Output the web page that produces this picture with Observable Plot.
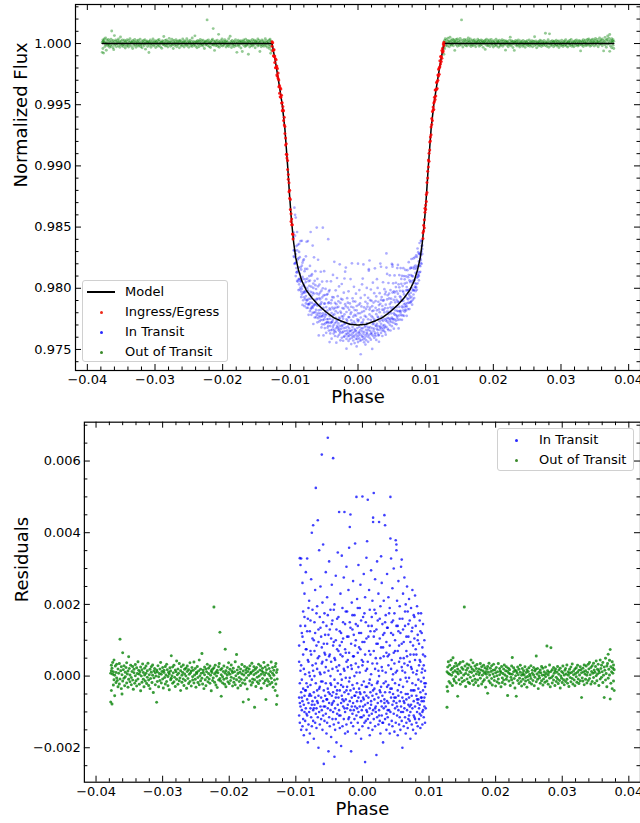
<!DOCTYPE html>
<html><head><meta charset="utf-8">
<script src="https://cdn.jsdelivr.net/npm/d3@7"></script>
<script src="https://cdn.jsdelivr.net/npm/@observablehq/plot@0.6"></script>
<style>
html,body{margin:0;padding:0;background:#fff;overflow:hidden;}
#wrap{position:relative;width:640px;height:823px;font-family:"DejaVu Sans",sans-serif;color:#000;overflow:hidden;}
.panel{position:absolute;left:0;}
.legend{position:absolute;border:1px solid #d0d0d0;border-radius:3px;background:rgba(255,255,255,0.8);box-sizing:border-box;font-size:13px;}
.lrow{position:absolute;left:0;height:16px;line-height:16px;white-space:nowrap;width:100%;}
.lrow .txt{position:absolute;}
.lrow .dot{position:absolute;width:3px;height:3px;border-radius:50%;top:6.5px;}
.lrow .ln{position:absolute;height:1.5px;background:#000;top:7px;}
</style></head>
<body><div id="wrap"></div>
<script>
// units: phase in 1e-4, flux / residual in 1e-5
const baseline = 1.0;
// Out of transit: [phase, residuals...]
const outOfTransit = [
[-378,-72,8],[-377,15,-40,30],[-376,-78,22],[-375,5,38],[-374,-25,12],[-373,45,-10],[-372,2,-55],[-371,28],[-370,-18,10],[-369,33,-5],
[-368,-12],[-367,20,-30],[-366,8],[-365,-22,35],[-364,103,-8],[-363,15],[-362,-35,26],[-361,-50,4],[-360,65,-14],[-359,18],
[-358,-6,29],[-357,-27],[-356,11,-2],[-355,24],[-354,-19,37],[-353,6],[-352,-31,14],[-351,54,-9],[-350,21],[-349,-16,3],
[-348,30],[-347,-4,-24],[-346,13],[-345,27,-11],[-344,-37],[-343,9,19],[-342,-20],[-341,1,32],[-340,-13],[-339,23,-28],
[-338,7],[-337,-8,40],[-336,16],[-335,-23,5],[-334,12],[-333,-41,25],[-332,0],[-331,18,-17],[-330,34],[-329,-9,10],
[-328,-30],[-327,22,3],[-326,-14],[-325,8,28],[-324,-21],[-323,15,-3],[-322,36],[-321,-11,-26],[-320,4],[-319,19,-35],
[-318,-7],[-317,26,11],[-316,-18],[-315,2,31],[-314,-46],[-313,14,-5],[-312,21],[-311,-24,9],[-310,0],[-309,-73,17],
[-308,12,-15],[-307,29],[-306,-2,-30],[-305,7],[-304,20,-12],[-303,38],[-302,-19,5],[-301,13],[-300,-8,24],[-299,-33],
[-298,10,16],[-297,-4],[-296,27,-22],[-295,3],[-294,-15,33],[-293,18],[-292,-27,-1],[-291,11],[-290,6,-38],[-289,23],
[-288,-10,14],[-287,57,-6],[-286,1],[-285,-20,25],[-284,9],[-283,30,-16],[-282,-3],[-281,17,-29],[-280,12],[-279,-9,42],
[-278,4],[-277,-23,20],[-276,8],[-275,35,-13],[-274,-5],[-273,15,-40],[-272,26],[-271,-17,2],[-270,10],[-269,31,-8],
[-268,-26],[-267,6,19],[-266,-12],[-265,22,0],[-264,-34],[-263,13,28],[-262,-7],[-261,18,-21],[-260,5],[-259,-15,37],
[-258,9],[-257,-28,14],[-256,24],[-255,-2,-11],[-254,16],[-253,39,-19],[-252,3],[-251,-9,21],[-250,-31],[-249,11,7],
[-248,27],[-247,-18,-4],[-246,14],[-245,45,-24],[-244,1],[-243,-13,19],[-242,8],[-241,63,-6],[-240,-22],[-239,17,10],
[-238,-35],[-237,4,25],[-236,-10],[-235,20,-27],[-234,12],[-233,-3,33],[-232,-16],[-231,7,22],[-230,-8],[-229,28,-20],
[-228,2],[-227,-41,15],[-226,10],[-225,19,-12],[-224,-5],[-223,193,23],[-222,-17,6],[-221,30],[-220,-25,11],[-219,0],
[-218,16,-32],[-217,9],[-216,-11,26],[-215,35],[-214,122,-7],[-213,-14,18],[-212,-56,4],[-211,21],[-210,-2,-19],[-209,13],
[-208,28,-9],[-207,-23],[-206,75,8],[-205,15,-30],[-204,-6],[-203,24,3],[-202,-16],[-201,10,37],[-200,-21],[-199,5,19],
[-198,-12],[-197,31,-3],[-196,14],[-195,-28,9],[-194,22],[-193,-7,-17],[-192,12],[-191,40,-24],[-190,1],[-189,60,-10],
[-188,17],[-187,-33,7],[-186,25],[-185,-4,-15],[-184,11],[-183,20,-26],[-182,-9],[-181,6,32],[-180,-19],[-179,-72,14],
[-178,3],[-177,27,-11],[-176,-22],[-175,9,18],[-174,-5],[-173,23,-36],[-172,13],[-171,-65,2],[-170,20],[-169,-14,29],
[-168,7],[-167,-25,11],[-166,36],[-165,-8,-18],[-164,15],[-163,4,26],[-162,-87,-10],[-161,19],[-160,-29,8],[-159,24],
[-158,-3,-16],[-157,12],[-156,33,-21],[-155,0],[-154,-12,17],[-153,28],[-152,-34,5],[-151,14],[-150,-7,22],[-149,10],
[-148,-20,38],[-147,3],[-146,25,-13],[-145,-65,9],[-144,18],[-143,-9,-27],[-142,30],[-141,6,-15],[-140,21],[-139,-23,1],
[-138,13],[-137,39,-6],[-136,-18],[-135,8,24],[-134,-31],[-133,16,2],[-132,-11],[-131,27,-40],[-130,-22,35],[-129,-79,10],
[-128,-55,18,-8],
[127,-87,12,-30],[128,-42,25],[129,8,40],[130,-15],[131,30,5],[132,-20],[133,18,44],[134,2],[135,-26,22],[136,51,10],
[137,-8],[138,27,-14],[139,15],[140,36,-2],[141,-19],[142,11,29],[143,-56,20],[144,6],[145,33,-10],[146,14],
[147,-23,38],[148,9],[149,24,-5],[150,-16],[151,19,41],[152,3],[153,193,-12],[154,28],[155,7,-29],[156,16],
[157,-8,34],[158,22],[159,-17,4],[160,31],[161,12,-21],[162,-3],[163,25,45],[164,10],[165,-13,19],[166,37],
[167,1,-24],[168,15],[169,28,-9],[170,-18],[171,6,21],[172,32],[173,-11,13],[174,-27],[175,20,4],[176,9],
[177,-6,35],[178,17],[179,-22,26],[180,2],[181,14,-15],[182,30],[183,-10,8],[184,23],[185,-31,12],[186,5],
[187,19,-4],[188,-48,27],[189,11],[190,-14,36],[191,3],[192,22,-19],[193,13],[194,-7,29],[195,-25],[196,16,6],
[197,33],[198,-2,-12],[199,18],[200,9,-28],[201,24],[202,-16,1],[203,12],[204,35,-8],[205,-20],[206,4,21],
[207,14],[208,-30,10],[209,27],[210,-5,-18],[211,7],[212,20,-11],[213,31],[214,-23,3],[215,15],[216,-9,26],
[217,-1],[218,-54,13],[219,22],[220,-14,8],[221,18],[222,6,-26],[223,-3],[224,28,-10],[225,52,5],[226,-19],
[227,12,23],[228,-7],[229,17,-33],[230,1],[231,-56,14],[232,9],[233,-12,25],[234,4],[235,19,-21],[236,-6],
[237,11,30],[238,-15],[239,2,-28],[240,21],[241,-9,7],[242,15],[243,-23,3],[244,26],[245,-4,-14],[246,10],
[247,18,-31],[248,-1],[249,13,-11],[250,23],[251,-18,5],[252,0],[253,29,-7],[254,-22],[255,8,16],[256,-12],
[257,3,24],[258,-27],[259,14,-3],[260,19],[261,56,-16],[262,6],[263,-9,21],[264,-35],[265,11,1],[266,-5],
[267,17,-20],[268,9],[269,-13,27],[270,2],[271,22,-25],[272,-8],[273,12,4],[274,-17],[275,25,-2],[276,7],
[277,84,-14],[278,15],[279,-23,3],[280,10],[281,-6,31],[282,-30],[283,79,13],[284,-4],[285,18,-19],[286,1],
[287,-11,24],[288,8],[289,-26,14],[290,20],[291,-3,-15],[292,11],[293,27,-8],[294,-21],[295,5,17],[296,-12],
[297,22,-33],[298,0],[299,13,-6],[300,-18],[301,28,9],[302,-10],[303,3,-24],[304,16],[305,-15,21],[306,6],
[307,31,-9],[308,-20],[309,12,2],[310,-29],[311,19,8],[312,-4],[313,25,-16],[314,10],[315,-7,34],[316,-22],
[317,14,4],[318,-11],[319,20,-27],[320,7],[321,-2,23],[322,-17],[323,30,11],[324,-8],[325,16,-21],[326,3],
[327,-13,26],[328,18],[329,-60,9],[330,-5],[331,22,-14],[332,12],[333,-24,31],[334,6],[335,15,-9],[336,28],
[337,-19,2],[338,10],[339,33,-12],[340,20],[341,-7,38],[342,4],[343,24,-22],[344,13],[345,-15,29],[346,8],
[347,36,-4],[348,17],[349,-20,11],[350,27],[351,1,42],[352,-13],[353,19,6],[354,33],[355,-26,15],[356,9],
[357,45,-8],[358,21],[359,-3,30],[360,12],[361,38,-18],[362,2],[363,-60,25],[364,16],[365,50,-11],[366,7],
[367,28,-30],[368,35],[369,61,-6],[370,19],[371,44,3],[372,74,-64],[373,26,-20],[374,12],[375,40,-35],[376,8,22],
[377,-14,31],[378,18,-40]
];
// Ingress / egress: [phase, model flux, residuals...]
const ingressEgress = [
[-127,100000,15,-22],[-126,99970,-28,36],[-125,99940,10,-40],[-124,99910,40,-15],[-123,99880,-36,18],[-122,99850,26,-48],
[-121,99817,-10,50],[-120,99783,33,-40],[-119,99750,-18,45],[-118,99715,45,0],[-117,99680,-33,22],[-116,99645,12,-52],
[-115,99610,-45,28],[-114,99573,55,-12],[-113,99537,-22,40],[-112,99500,16,-50],[-111,99450,36,8],[-110,99400,-28,50],
[-109,99350,48,-16],[-108,99300,-36,22],[-107,99225,4,-55],[-106,99150,-54,32],[-105,99075,18,-10],[-104,99000,44,-30],
[-103,98917,-26,12],[-102,98833,30,-44],[-101,98750,-15,52],[-100,98675,50,-32],[-99,98600,8,-54],[-98,98540,26,-20],
[-97,98480,-36,40],[-96,98425,15,-22],
[96,98425,-18,28],[97,98480,36,-12],[98,98540,-45,20],[99,98600,22,54],[100,98675,-32,6],[101,98750,16,-40],
[102,98833,-50,32],[103,98917,40,-15],[104,99000,-8,48],[105,99075,28,-36],[106,99150,46,-20],[107,99225,-22,12],
[108,99300,18,-46],[109,99350,-12,38],[110,99400,44,-28],[111,99450,6,32],[112,99500,-40,14],[113,99537,24,-10],
[114,99573,-30,48],[115,99610,12,-38],[116,99645,36,-20],[117,99680,-48,8],[118,99715,28,-16],[119,99750,-15,40],
[120,99783,20,-34],[121,99817,-6,42],[122,99850,45,-18],[123,99880,-26,15],[124,99910,34,-30],[125,99940,-12,22],
[126,99970,26,-32],[127,100000,-16,10]
];
// In transit: [phase, model flux, residuals...]
const inTransit = [
[-95,98370,-60,40,-110,85],[-94,98330,329,-20,-130,-75],[-93,98290,310,-85,15,140],[-92,98250,328,-150,-45,30],[-91,98225,120,-95,-10,-60],
[-90,98200,260,-70,-140,110],[-89,98175,180,-35,-120,60],[-88,98150,-80,95,-165,20],[-87,98132,230,-55,-100,165],[-86,98114,140,-125,5,-40],
[-85,98096,290,-90,-40,75],[-84,98078,-150,75,-20,-105],[-83,98060,328,-110,-65,125],[-82,98049,160,-185,-30,45],[-81,98037,-75,40,-135,190],
[-80,98026,210,-100,10,-55],[-79,98014,-50,125,-160,0],[-78,98003,70,-90,-25,155],[-77,97991,270,-115,-55,60],[-76,97980,400,-140,-10,-80],
[-75,97973,185,-70,30,105],[-74,97965,421,-95,-125,15],[-73,97958,100,-45,-175,-90],[-72,97950,-80,150,0,70],[-71,97943,240,-130,-60,120],
[-70,97935,525,-20,-105,35],[-69,97928,85,-90,-145,175],[-68,97920,195,-40,20,-70],[-67,97914,435,-115,-75,50],[-66,97908,130,-55,-200,95],
[-65,97902,351,-100,55,-35],[-64,97896,-30,-135,165,10],[-63,97890,250,-85,5,135],[-62,97884,110,-60,-120,-15],[-61,97878,618,-95,35,80],
[-60,97872,205,-150,-15,40],[-59,97866,367,-70,-110,150],[-58,97860,90,-40,-245,-85],[-57,97855,175,-125,10,65],[-56,97850,-85,60,-55,115],
[-55,97845,290,-105,-20,25],[-54,97840,140,-160,45,-65],[-53,97835,-65,220,-130,90],[-52,97830,665,-90,-35,170],[-51,97825,115,-210,15,-45],
[-50,97820,320,-75,-115,55],[-49,97815,60,-50,-140,130],[-48,97810,185,-95,0,-20],[-47,97806,-25,-170,105,40],[-46,97802,255,-80,-55,145],
[-45,97798,155,-120,20,-75],[-44,97793,608,-45,-100,85],[-43,97789,95,-135,-70,185],[-42,97785,200,-10,-225,50],[-41,97781,45,-90,-150,-30],
[-40,97777,280,-60,-120,100],[-39,97773,130,-185,25,-50],[-38,97768,-40,75,-105,160],[-37,97764,345,-80,-20,15],[-36,97760,165,-130,-60,70],
[-35,97758,458,-95,30,-110],[-34,97755,85,-40,-145,125],[-33,97753,230,-110,5,60],[-32,97750,120,-75,-195,-25],[-31,97748,336,-55,-10,95],
[-30,97745,190,-140,55,-65],[-29,97743,-85,105,-30,150],[-28,97740,275,-120,-70,20],[-27,97738,458,-45,15,-90],[-26,97735,145,-100,-160,75],
[-25,97733,65,-65,-5,180],[-24,97730,305,-135,40,-40],[-23,97728,180,-90,-30,110],[-22,97726,25,-155,-80,45],[-21,97724,240,-50,110,-120],
[-20,97722,358,-115,-15,65],[-19,97720,416,-70,150,-5],[-18,97718,451,-95,-40,135],[-17,97716,90,-130,-210,30],[-16,97714,205,-60,20,-85],
[-15,97712,130,-105,-25,170],[-14,97710,265,-75,-140,55],[-13,97708,55,-35,-95,115],[-12,97706,170,-120,0,-55],[-11,97705,370,-85,-55,85],
[-10,97704,100,-160,35,145],[-9,97704,500,-45,-110,10],[-8,97703,215,-90,-20,-70],[-7,97703,140,-130,65,190],[-6,97702,310,-60,-100,25],
[-5,97702,80,-150,-35,120],[-4,97701,190,-85,10,-45],[-3,97701,255,-115,-50,75],[-2,97700,120,-70,-175,155],[-1,97700,45,-95,-25,-115],
[0,97700,501,-140,30,95],[1,97700,165,-60,-85,40],[2,97700,285,-110,-15,-65],[3,97701,95,-45,-130,175],[4,97701,220,-80,-240,60],
[5,97702,150,-125,15,-30],[6,97702,330,-55,-95,105],[7,97703,376,-100,-30,20],[8,97703,492,-75,40,-120],[9,97704,110,-145,-60,140],
[10,97704,240,-20,-110,70],[11,97705,185,-90,-165,-10],[12,97706,60,-130,-45,125],[13,97708,295,-70,5,-80],[14,97710,140,-105,-25,165],
[15,97712,210,-55,-150,35],[16,97714,442,-95,430,-40],[17,97716,511,-120,70,110],[18,97718,125,-65,-35,185],[19,97720,270,-140,20,-90],
[20,97722,175,-85,-100,50],[21,97724,90,-50,-220,130],[22,97726,320,-115,35,-20],[23,97728,155,-75,-15,90],[24,97730,230,-135,-60,15],
[25,97733,430,-95,0,-110],[26,97735,105,-40,-125,160],[27,97738,195,-160,50,-45],[28,97740,334,-70,-30,80],[29,97743,260,-110,-85,25],
[30,97745,145,-55,15,-130],[31,97748,80,-130,-185,115],[32,97750,210,-90,-20,55],[33,97753,449,-65,120,-75],[34,97755,421,-120,-45,150],
[35,97758,170,-85,10,-15],[36,97760,95,-150,-105,65],[37,97764,285,-30,-70,135],[38,97768,135,-115,55,-95],[39,97773,220,-75,-25,30],
[40,97777,60,-135,-95,175],[41,97781,190,-45,-160,85],[42,97785,500,384,-100,-35],[43,97789,328,-60,20,120],[44,97793,150,-125,-35,45],
[45,97798,245,-80,-140,-10],[46,97802,115,-50,5,155],[47,97806,300,-105,-70,65],[48,97810,175,-155,35,-60],[49,97815,70,-90,-20,100],
[50,97820,379,-130,-60,10],[51,97825,367,351,-75,140],[52,97830,210,-110,15,-85],[53,97835,140,-40,-165,70],[54,97840,265,-95,-55,125],
[55,97845,85,-135,40,-25],[56,97850,195,-70,-115,160],[57,97855,120,-150,-10,50],[58,97860,305,-85,-45,-100],[59,97866,325,-125,25,90],
[60,97872,160,-60,-200,15],[61,97878,230,-100,-30,130],[62,97884,95,-140,50,-70],[63,97890,275,-75,-90,35],[64,97896,140,-115,10,180],
[65,97902,200,-50,-160,-5],[66,97908,70,-130,-65,110],[67,97914,250,-95,-15,55],[68,97920,180,-145,30,-50],[69,97928,110,-80,-120,145],
[70,97935,215,-60,-5,-110],[71,97943,155,-125,-85,40],[72,97950,60,-100,-175,95],[73,97958,190,-40,25,-80],[74,97965,125,-135,-55,20],
[75,97973,240,-90,-20,135],[76,97980,85,-150,10,-40],[77,97991,170,-70,-110,60],[78,98003,105,-115,-40,165],[79,98014,225,-85,45,-120],
[80,98026,140,-160,-25,75],[81,98037,60,-55,-130,5],[82,98049,195,-100,15,-65],[83,98060,115,-140,-75,100],[84,98078,175,-65,-35,-10],
[85,98096,90,-120,30,-90],[86,98114,155,-80,-105,45],[87,98132,40,-45,-145,125],[88,98150,175,-110,-15,-60],[89,98175,120,-70,-60,10],
[90,98200,80,-135,20,-100],[91,98225,145,-95,-40,60],[92,98250,30,-115,-5,-70],[93,98290,100,-60,-85,-20],[94,98330,55,-130,-30,15],
[95,98370,-20,-90,-50]
];
// axis tick values
const xMajor = [-0.04,-0.03,-0.02,-0.01,0,0.01,0.02,0.03,0.04];
const yMajorTop = [0.975,0.980,0.985,0.990,0.995,1.000];
const yMajorBot = [-0.002,0,0.002,0.004,0.006];
const xMinor = d3.range(-40,41,2).filter(v=>v%10!==0).map(v=>v/1000);
const yMinorTop = d3.range(974,1004).filter(v=>v%5!==0).map(v=>v/1000);
const yMinorBot = d3.range(-5,15).filter(v=>v%4!==0).map(v=>v/2000);

const PH=1e-4, RU=1e-5;
const greenPts = outOfTransit.flatMap(([p,...rs])=>rs.map(r=>({phase:p*PH,resid:r*RU,flux:baseline+r*RU})));
const redPts = ingressEgress.flatMap(([p,m,...rs])=>rs.map(r=>({phase:p*PH,flux:(m+r)*RU})));
const bluePts = inTransit.flatMap(([p,m,...rs])=>rs.map(r=>({phase:p*PH,resid:r*RU,flux:(m+r)*RU})));
const modelLine = [
  ...outOfTransit.map(([p])=>({phase:p*PH,flux:baseline})),
  ...ingressEgress.map(([p,m])=>({phase:p*PH,flux:m*RU})),
  ...inTransit.map(([p,m])=>({phase:p*PH,flux:m*RU}))
].sort((a,b)=>a.phase-b.phase);

function frameTicks(iw, ih, xMaj, xMin, yMaj, yMin){
  const M=6, m=3.5, s={stroke:"#000", strokeWidth:1};
  return [
    Plot.tickX(xMaj,{x:d=>d,insetTop:ih-M,...s}),
    Plot.tickX(xMaj,{x:d=>d,insetBottom:ih-M,...s}),
    Plot.tickX(xMin,{x:d=>d,insetTop:ih-m,...s}),
    Plot.tickX(xMin,{x:d=>d,insetBottom:ih-m,...s}),
    Plot.tickY(yMaj,{y:d=>d,insetRight:iw-M,...s}),
    Plot.tickY(yMaj,{y:d=>d,insetLeft:iw-M,...s}),
    Plot.tickY(yMin,{y:d=>d,insetRight:iw-m,...s}),
    Plot.tickY(yMin,{y:d=>d,insetLeft:iw-m,...s})
  ];
}
const font = {fontFamily:"DejaVu Sans", fontSize:"13px", color:"#000", background:"transparent", overflow:"visible"};

// Top panel
const T = {w:640,h:412,ml:75,mr:0,mt:4,mb:42};
const topPlot = Plot.plot({
  width:T.w, height:T.h, marginLeft:T.ml, marginRight:T.mr, marginTop:T.mt, marginBottom:T.mb,
  style:font,
  x:{domain:[-0.04175,0.04175]},
  y:{domain:[0.97328,1.00319]},
  marks:[
    Plot.dot(greenPts,{x:"phase",y:"flux",r:1.45,fill:"green",fillOpacity:0.42,stroke:"none"}),
    Plot.dot(bluePts,{x:"phase",y:"flux",r:1.35,fill:"blue",fillOpacity:0.32,stroke:"none"}),
    Plot.line(modelLine,{x:"phase",y:"flux",stroke:"#000",strokeWidth:1.5}),
    Plot.dot(redPts,{x:"phase",y:"flux",r:1.5,fill:"red",fillOpacity:0.85,stroke:"none"}),
    Plot.frame({stroke:"#000",strokeWidth:1.2}),
    ...frameTicks(T.w-T.ml-T.mr, T.h-T.mt-T.mb, xMajor, xMinor, yMajorTop, yMinorTop),
    Plot.axisX(xMajor,{tickSize:0,tickPadding:4,tickFormat:d3.format(".2f"),fontSize:13,label:null}),
    Plot.axisY(yMajorTop,{tickSize:0,tickPadding:4,tickFormat:d3.format(".3f"),fontSize:13,label:null}),
    Plot.text(["Phase"],{text:d=>d,frameAnchor:"bottom",dy:27,fontSize:18,lineAnchor:"middle"}),
    Plot.text(["Normalized Flux"],{text:d=>d,frameAnchor:"left",dx:-54,rotate:-90,fontSize:18,lineAnchor:"middle"})
  ]
});

// Bottom panel
const B = {w:641,h:411,ml:84,mr:0,mt:9.7,mb:40.7};
const botPlot = Plot.plot({
  width:B.w, height:B.h, marginLeft:B.ml, marginRight:B.mr, marginTop:B.mt, marginBottom:B.mb,
  style:font,
  x:{domain:[-0.04175,0.04175]},
  y:{domain:[-0.002961,0.007084]},
  marks:[
    Plot.dot(bluePts,{x:"phase",y:"resid",r:1.3,fill:"blue",fillOpacity:0.75,stroke:"none"}),
    Plot.dot(greenPts,{x:"phase",y:"resid",r:1.5,fill:"green",fillOpacity:0.78,stroke:"none"}),
    Plot.frame({stroke:"#000",strokeWidth:1.2}),
    ...frameTicks(B.w-B.ml-B.mr, B.h-B.mt-B.mb, xMajor, xMinor, yMajorBot, yMinorBot),
    Plot.axisX(xMajor,{tickSize:0,tickPadding:5,tickFormat:d3.format(".2f"),fontSize:13,label:null}),
    Plot.axisY(yMajorBot,{tickSize:0,tickPadding:3.5,tickFormat:d3.format(".3f"),fontSize:13,label:null}),
    Plot.text(["Phase"],{text:d=>d,frameAnchor:"bottom",dy:27,fontSize:18,lineAnchor:"middle"}),
    Plot.text(["Residuals"],{text:d=>d,frameAnchor:"left",dx:-62.5,rotate:-90,fontSize:18,lineAnchor:"middle"})
  ]
});

const wrap = document.getElementById("wrap");
const p1 = document.createElement("div"); p1.className="panel"; p1.style.top="0px"; p1.appendChild(topPlot); wrap.appendChild(p1);
const p2 = document.createElement("div"); p2.className="panel"; p2.style.top="412px"; p2.appendChild(botPlot); wrap.appendChild(p2);

function legend(box, entries){
  const d = document.createElement("div"); d.className="legend";
  Object.assign(d.style,{left:box.left+"px",top:box.top+"px",width:box.w+"px",height:box.h+"px"});
  entries.forEach(e=>{
    const r = document.createElement("div"); r.className="lrow"; r.style.top=(e.y-8)+"px";
    if(e.line){const l=document.createElement("div");l.className="ln";l.style.left="4px";l.style.width="28px";r.appendChild(l);}
    else {const s=document.createElement("div");s.className="dot";s.style.left=(e.dx-1.5)+"px";s.style.background=e.color;r.appendChild(s);}
    const t=document.createElement("span");t.className="txt";t.style.left=e.tx+"px";t.textContent=e.label;r.appendChild(t);
    d.appendChild(r);
  });
  wrap.appendChild(d);
}
legend({left:82,top:280,w:146,h:82},[
  {label:"Model",line:true,y:11,tx:42},
  {label:"Ingress/Egress",color:"#ee2a1a",dx:18,y:31,tx:42},
  {label:"In Transit",color:"#2a2aff",dx:18,y:51,tx:42},
  {label:"Out of Transit",color:"#3a8a2a",dx:18,y:71,tx:42}
]);
legend({left:497,top:428,w:137,h:43},[
  {label:"In Transit",color:"#2a2aff",dx:18,y:11,tx:41},
  {label:"Out of Transit",color:"#3a8a2a",dx:18,y:31,tx:41}
]);
</script></body></html>
